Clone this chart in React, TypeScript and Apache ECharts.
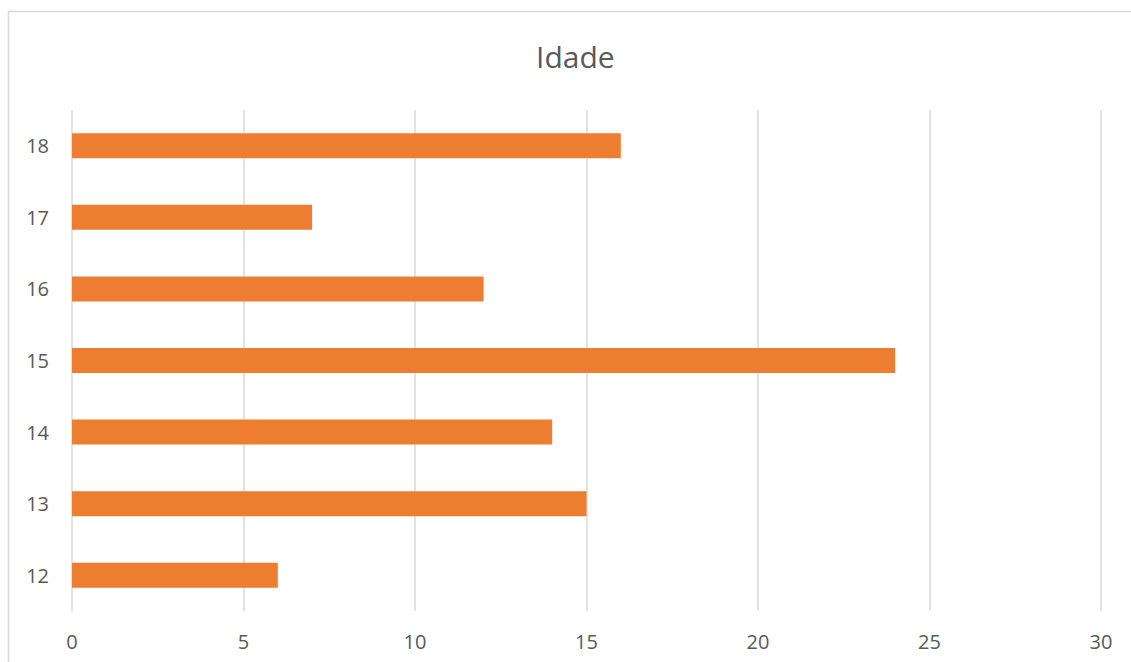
import React, { useEffect, useRef } from "react";
import * as echarts from "echarts";

const title = "Idade";
const categories = ["12", "13", "14", "15", "16", "17", "18"];
const values = [6, 15, 14, 24, 12, 7, 16];
const xTicks = [0, 5, 10, 15, 20, 25, 30];

export default function App() {
  const ref = useRef<HTMLDivElement>(null);
  useEffect(() => {
    if (!ref.current) return;
    const chart = echarts.init(ref.current, null, { renderer: "svg" });
    chart.setOption({
      animation: false,
      backgroundColor: "#ffffff",
      textStyle: { fontFamily: "Open Sans" },
      title: {
        text: title,
        left: 531,
        top: 36,
        textStyle: { fontFamily: "Open Sans", fontSize: 30, fontWeight: "normal", color: "#595959" },
      },
      graphic: [
        {
          type: "rect",
          shape: { x: 8.5, y: 11.5, width: 1200, height: 700 },
          style: { fill: "none", stroke: "#d9d9d9", lineWidth: 1.5 },
          silent: true,
        },
      ],
      grid: { left: 72, right: 30, top: 110, bottom: 51, containLabel: false },
      xAxis: {
        type: "value",
        min: xTicks[0],
        max: xTicks[xTicks.length - 1],
        interval: 5,
        axisLine: { show: false },
        axisTick: { show: false },
        axisLabel: { color: "#595959", fontSize: 20, fontFamily: "Open Sans", margin: 20 },
        splitLine: { show: true, lineStyle: { color: "#d9d9d9", width: 1.5 } },
      },
      yAxis: {
        type: "category",
        data: categories,
        axisLine: { show: false },
        axisTick: { show: false },
        axisLabel: { color: "#595959", fontSize: 20, fontFamily: "Open Sans", margin: 23 },
        splitLine: { show: false },
      },
      series: [
        {
          type: "bar",
          data: values,
          barWidth: 25,
          itemStyle: { color: "#ED7D31" },
        },
      ],
    });
    return () => chart.dispose();
  }, []);
  return (
    <div
      ref={ref}
      style={{ position: "fixed", left: 0, top: 0, width: 1131, height: 662 }}
    />
  );
}
